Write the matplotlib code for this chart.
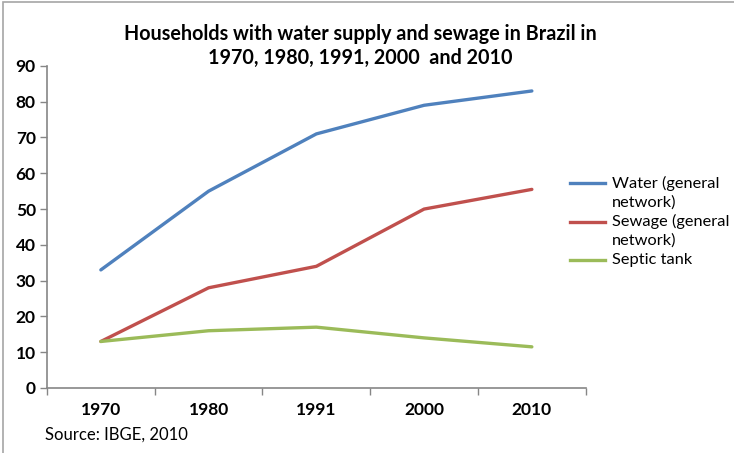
import matplotlib
matplotlib.use('Agg')
import matplotlib.pyplot as plt
from matplotlib.lines import Line2D
from matplotlib.patches import Rectangle

plt.rcParams['font.family'] = ['Lato', 'DejaVu Sans']

years = ['1970', '1980', '1991', '2000', '2010']
water = [33, 55, 71, 79, 83]
sewage = [13, 28, 34, 50, 55.5]
septic = [13, 16, 17, 14, 11.5]
series_labels = ['Water (general\nnetwork)', 'Sewage (general\nnetwork)', 'Septic tank']
colors = ['#4F81BD', '#C0504D', '#9BBB59']

W, H = 734, 453
fig = plt.figure(figsize=(W / 100, H / 100), dpi=100)
ax = fig.add_axes([0.064, 0.1435, 0.734, 0.711])

x = range(len(years))
for vals, lab, c in zip([water, sewage, septic], series_labels, colors):
    ax.plot(x, vals, color=c, lw=2.4, label=lab, solid_capstyle='round')

ax.set_xlim(-0.5, len(years) - 0.5)
ax.set_ylim(0, 90)
ax.set_yticks(range(0, 91, 10))
ax.set_xticks(list(x))
ax.set_xticklabels(years)
ax.set_xticks([i - 0.5 for i in range(len(years) + 1)], minor=True)
ax.tick_params(axis='x', which='major', length=0, pad=10, labelsize=12.5)
ax.tick_params(axis='x', which='minor', length=5, color='#868686', width=1)
ax.tick_params(axis='y', length=5, color='#868686', width=1, labelsize=12.5, pad=3)
for t in ax.get_xticklabels() + ax.get_yticklabels():
    t.set_fontweight('bold')

for s in ['top', 'right']:
    ax.spines[s].set_visible(False)
for s in ['left', 'bottom']:
    ax.spines[s].set_color('#868686')
    ax.spines[s].set_linewidth(1.2)

fig.text(0.491, 0.948, 'Households with water supply and sewage in Brazil in\n1970, 1980, 1991, 2000  and 2010',
         ha='center', va='top', fontsize=14.2, fontweight='bold', linespacing=1.25)

# legend on the right, handle lined up with the first text line of each entry
row_h = 19.3
y_px = 183
for lab, c in zip(series_labels, colors):
    yf = 1 - y_px / H
    fig.add_artist(Line2D([570 / W, 605 / W], [yf, yf], color=c, lw=2.4, transform=fig.transFigure))
    for line in lab.split('\n'):
        fig.text(612 / W, 1 - y_px / H, line, fontsize=11.8, ha='left', va='center')
        y_px += row_h

fig.text(0.061, 0.04, 'Source: IBGE, 2010', fontsize=12, ha='left', va='center')

# outer chart frame
fig.patches.append(Rectangle((3 / W, -0.1), 1.1, 1.1 - 2 / H, transform=fig.transFigure,
                             fill=False, edgecolor='#A6A6A6', lw=1.2))

fig.savefig('out.png', dpi=100)
